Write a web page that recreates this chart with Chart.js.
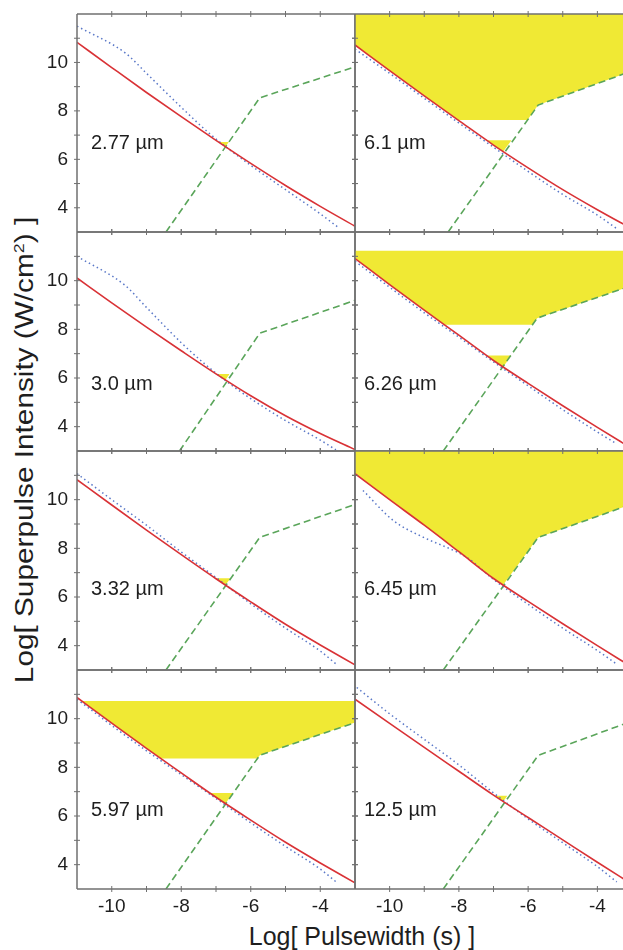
<!DOCTYPE html>
<html>
<head>
<meta charset="utf-8">
<script src="https://cdn.jsdelivr.net/npm/chart.js@4.4.1/dist/chart.umd.min.js"></script>
<style>
body{margin:0;width:623px;height:950px;position:relative;overflow:hidden;background:#fff;font-family:"Liberation Sans",Arial,sans-serif;color:#1e1e1e;}
.lab{position:absolute;font-size:20px;line-height:24px;white-space:nowrap;}
#xt{position:absolute;left:112px;top:922px;width:500px;text-align:center;font-size:25px;line-height:28px;white-space:nowrap;}
#yt{position:absolute;left:-236px;top:435px;width:520px;height:30px;line-height:30px;text-align:center;font-size:25px;white-space:nowrap;transform:rotate(-90deg) scaleX(1.19);}
#yt sup{font-size:15px;vertical-align:9px;line-height:0;}
</style>
</head>
<body>
<div id="xt">Log[ Pulsewidth (s) ]</div>
<div id="yt">Log[ Superpulse Intensity (W/cm<sup>2</sup>) ]</div>
<script>
// panels: left column top->bottom, then right column top->bottom
const wavelengths = ['2.77', '3.0', '3.32', '5.97', '6.1', '6.26', '6.45', '12.5'];

// x positions (log pulsewidth) where the red curve was read
const pulseX = [-11, -10, -9, -8, -7, -6, -5, -4, -3];

// red solid curve, one row per panel
const redY = [
  [10.83, 9.79, 8.76, 7.76, 6.78, 5.83, 4.92, 4.06, 3.24],
  [10.11, 9.09, 8.09, 7.12, 6.17, 5.27, 4.45, 3.72, 3.06],
  [10.82, 9.78, 8.75, 7.74, 6.75, 5.80, 4.88, 4.03, 3.21],
  [10.87, 9.82, 8.78, 7.77, 6.77, 5.83, 4.92, 4.07, 3.25],
  [10.72, 9.66, 8.62, 7.60, 6.59, 5.65, 4.75, 3.92, 3.13],
  [10.91, 9.84, 8.79, 7.76, 6.72, 5.78, 4.86, 3.97, 3.10],
  [11.07, 10.00, 8.95, 7.86, 6.76, 5.82, 4.90, 4.00, 3.12],
  [10.80, 9.81, 8.82, 7.84, 6.86, 5.94, 5.02, 4.10, 3.20]
];

// blue dotted curve [x, y]
const blueLines = [
  [[-11,11.5],[-9.6,10.38],[-9,9.55],[-8,8.15],[-7.2,7.08],[-6.7,6.5],[-6,5.75],[-5,4.75],[-4,3.75],[-3.5,3.21]],
  [[-11,11.0],[-9.62,9.81],[-9,8.9],[-8,7.45],[-7.3,6.55],[-6.5,5.65],[-6,5.15],[-5,4.25],[-4,3.45],[-3.55,3.05]],
  [[-11,11.07],[-10,10.0],[-9,8.95],[-8,7.85],[-7,6.8],[-6,5.72],[-5,4.72],[-4,3.78],[-3.55,3.25]],
  [[-11,10.8],[-10,9.72],[-9,8.68],[-8,7.7],[-7,6.72],[-6,5.72],[-5,4.75],[-4,3.82],[-3.55,3.3]],
  [[-11,10.55],[-10,9.55],[-9,8.52],[-8,7.5],[-7,6.5],[-6,5.5],[-5,4.55],[-4,3.7],[-3.44,3.14]],
  [[-11,10.8],[-10,9.73],[-9,8.68],[-8,7.68],[-7,6.66],[-6,5.68],[-5,4.7],[-4,3.78],[-3.44,3.29]],
  [[-10.77,10.38],[-9.89,9.14],[-9.02,8.45],[-8.24,7.97],[-7.76,7.62],[-7,6.72],[-6,5.7],[-5,4.72],[-4,3.8],[-3.44,3.24]],
  [[-10.95,11.28],[-10,10.2],[-9,9.15],[-8,8.1],[-7,6.95],[-6,5.88],[-5,4.9],[-4,3.92],[-3.44,3.29]]
];

// green dashed curve [x, y]
const greenLines = [
  [[-8.44,3],[-5.74,8.54],[-3,9.82]],
  [[-8.05,3],[-5.74,7.84],[-3,9.19]],
  [[-8.44,3],[-5.74,8.45],[-3,9.8]],
  [[-8.44,3],[-5.74,8.5],[-3,9.84]],
  [[-8.31,3],[-5.71,8.24],[-3,9.65]],
  [[-8.45,3],[-5.74,8.46],[-3,9.8]],
  [[-8.45,3],[-5.71,8.45],[-3,9.82]],
  [[-8.45,3],[-5.71,8.49],[-3,9.9]]
];

// large yellow region: lower edge and the level it reaches up to
const bigZones = [
  null, null, null,
  [[-10.86,10.73],[-10,9.82],[-9,8.78],[-8.58,8.36],[-5.81,8.36],[-5.74,8.5],[-3,9.84]],
  [[-11,10.72],[-10,9.66],[-9,8.62],[-8.02,7.62],[-6.02,7.62],[-5.71,8.24],[-3,9.65]],
  [[-11,10.91],[-10,9.84],[-9,8.79],[-8.42,8.19],[-5.87,8.19],[-5.74,8.46],[-3,9.8]],
  [[-11,11.07],[-10,10.0],[-9,8.95],[-8,7.86],[-7,6.76],[-6.72,6.5],[-5.71,8.45],[-3,9.82]],
  null
];
const bigZoneTops = [null, null, null, 10.73, 12, 11.23, 12, null];

// small yellow patch at the crossing
const smallZones = [
  [[-6.93,6.72],[-6.73,6.52],[-6.63,6.72]],
  [[-6.98,6.16],[-6.73,5.92],[-6.61,6.16]],
  [[-7.02,6.77],[-6.73,6.49],[-6.58,6.77]],
  [[-7.18,6.95],[-6.73,6.5],[-6.51,6.95]],
  [[-7.2,6.79],[-6.72,6.32],[-6.48,6.79]],
  [[-7.19,6.92],[-6.72,6.45],[-6.49,6.92]],
  null,
  [[-6.97,6.83],[-6.72,6.6],[-6.6,6.83]]
];
const smallZoneTops = [6.72, 6.16, 6.77, 6.95, 6.79, 6.92, null, 6.83];

// layout
const rowTop = [14, 232, 451, 670];
const rowBottom = [232, 451, 670, 889];
const labelDrop = [128, 151, 137, 139];

const YELLOW = '#f0e934';
const pts = arr => arr.map(p => ({x: p[0], y: p[1]}));

Chart.defaults.font.family = '"Liberation Sans", Arial, sans-serif';
Chart.defaults.font.size = 19;
Chart.defaults.color = '#1e1e1e';

// frame + small tick marks crossing the borders
const frame = {
  id: 'frame',
  afterDatasetsDraw(chart, args, opts) {
    const {ctx, chartArea: a, scales: {x, y}} = chart;
    ctx.save();
    ctx.strokeStyle = '#707070';
    ctx.lineWidth = 1.5;
    ctx.beginPath();
    ctx.moveTo(a.left, a.top); ctx.lineTo(a.right, a.top);
    ctx.moveTo(a.left, a.bottom); ctx.lineTo(a.right, a.bottom);
    ctx.moveTo(a.left, a.top); ctx.lineTo(a.left, a.bottom);
    if (opts.rightEdge) { ctx.moveTo(a.right, a.top); ctx.lineTo(a.right, a.bottom); }
    ctx.stroke();
    ctx.lineWidth = 1;
    ctx.beginPath();
    for (let v = -10; v <= -4; v++) {
      const px = x.getPixelForValue(v);
      ctx.moveTo(px, a.top - 3); ctx.lineTo(px, a.top + 3);
      ctx.moveTo(px, a.bottom - 3); ctx.lineTo(px, a.bottom + 3);
    }
    for (let v = 4; v <= 11; v++) {
      const py = y.getPixelForValue(v);
      ctx.moveTo(a.left - 3, py); ctx.lineTo(a.left + 3, py);
      if (opts.rightEdge) { ctx.moveTo(a.right - 3, py); ctx.lineTo(a.right + 3, py); }
    }
    ctx.stroke();
    ctx.restore();
  }
};

const noPad = s => { s.paddingTop = 0; s.paddingBottom = 0; s.paddingLeft = 0; s.paddingRight = 0; };

wavelengths.forEach((wl, i) => {
  const col = i < 4 ? 0 : 1;
  const row = i % 4;
  const lastRow = row === 3;
  const h = rowBottom[row] - rowTop[row];
  const cv = document.createElement('canvas');
  cv.width = col === 0 ? 359 : 272;
  cv.height = 4 + h + (lastRow ? 34 : 4);
  cv.style.cssText = 'position:absolute;left:' + (col === 0 ? 0 : 351) + 'px;top:' + (rowTop[row] - 4) + 'px;';
  document.body.appendChild(cv);

  const datasets = [
    {data: pulseX.map((x, j) => ({x: x, y: redY[i][j]})), borderColor: '#d93236', borderWidth: 1.6, cubicInterpolationMode: 'monotone', fill: false},
    {data: pts(blueLines[i]), borderColor: '#5a78c8', borderWidth: 1.5, borderDash: [1.5, 3], cubicInterpolationMode: 'monotone', fill: false},
    {data: pts(greenLines[i]), borderColor: '#5aa55a', borderWidth: 1.6, borderDash: [7, 4], fill: false}
  ];
  if (bigZones[i]) {
    datasets.push({data: pts(bigZones[i]), borderColor: 'rgba(0,0,0,0)', borderWidth: 0, backgroundColor: YELLOW, fill: {value: bigZoneTops[i]}});
  }
  if (smallZones[i]) {
    datasets.push({data: pts(smallZones[i]), borderColor: 'rgba(0,0,0,0)', borderWidth: 0, backgroundColor: YELLOW, fill: {value: smallZoneTops[i]}});
  }

  new Chart(cv, {
    type: 'line',
    data: {datasets: datasets},
    options: {
      responsive: false,
      animation: false,
      events: [],
      layout: {autoPadding: false, padding: {left: col === 0 ? 0 : 4, right: col === 0 ? 4 : 0, top: 4, bottom: lastRow ? 0 : 4}},
      elements: {point: {radius: 0}},
      plugins: {
        legend: {display: false},
        tooltip: {enabled: false},
        filler: {drawTime: 'beforeDatasetsDraw'},
        frame: {rightEdge: col === 0}
      },
      scales: {
        x: {
          type: 'linear', min: -11, max: col === 0 ? -3 : -3.26,
          display: lastRow,
          afterFit: s => { s.height = lastRow ? 34 : 0; noPad(s); },
          grid: {display: false, drawTicks: false},
          border: {display: false},
          ticks: {stepSize: 1, autoSkip: false, includeBounds: false, maxRotation: 0, padding: 6,
            callback: v => (v % 2 === 0 && v >= -10 && v <= -4) ? v : ''}
        },
        y: {
          min: 3, max: 12,
          display: col === 0,
          afterFit: s => { s.width = col === 0 ? 77 : 0; noPad(s); },
          grid: {display: false, drawTicks: false},
          border: {display: false},
          ticks: {stepSize: 1, autoSkip: false, padding: 9,
            callback: v => (v % 2 === 0 && v >= 4 && v <= 10) ? v : ''}
        }
      }
    },
    plugins: [frame]
  });

  const lab = document.createElement('div');
  lab.className = 'lab';
  lab.textContent = wl + ' \u00b5m';
  lab.style.left = (col === 0 ? 91 : 364) + 'px';
  lab.style.top = (rowTop[row] + labelDrop[row] - 12) + 'px';
  document.body.appendChild(lab);
});
</script>
</body>
</html>
